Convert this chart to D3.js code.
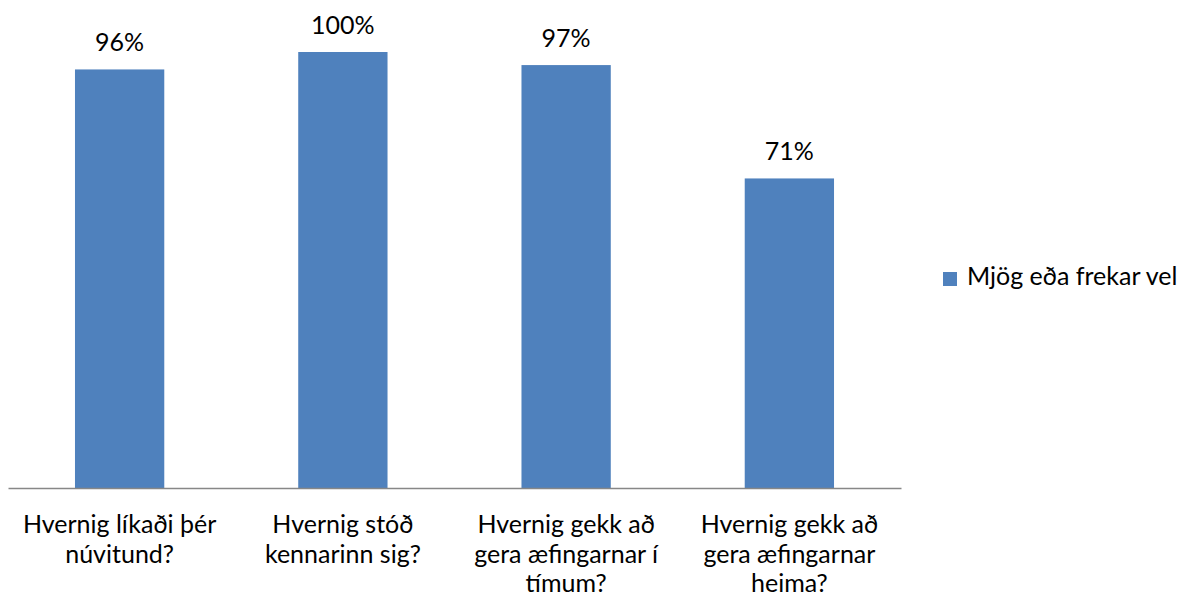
<!DOCTYPE html>
<html>
<head>
<meta charset="utf-8">
<script src="https://cdn.jsdelivr.net/npm/d3@7"></script>
<style>
  html, body { margin: 0; padding: 0; background: #fff; }
  svg { display: block; font-family: Lato, "Open Sans", sans-serif; }
</style>
</head>
<body>
<svg id="chart" width="1182" height="597"></svg>
<script>
// Survey questions (category axis), one line of text per array entry
const categories = [
  ["Hvernig líkaði þér", "núvitund?"],
  ["Hvernig stóð", "kennarinn sig?"],
  ["Hvernig gekk að", "gera æfingarnar í", "tímum?"],
  ["Hvernig gekk að", "gera æfingarnar", "heima?"]
];
// Share answering "very or fairly well", in percent
const values = [96, 100, 97, 71];
const seriesName = "Mjög eða frekar vel";

const svg = d3.select("#chart");
const barColor = "#4F81BD";
const fontSize = 25;

const x = d3.scaleBand()
  .domain(d3.range(categories.length))
  .range([8, 901])
  .paddingInner(0.6)
  .paddingOuter(0.3);

const y = d3.scaleLinear()
  .domain([0, 100])
  .range([488, 52]);

// Bars
svg.append("g")
  .selectAll("rect")
  .data(values)
  .join("rect")
  .attr("x", (d, i) => x(i))
  .attr("y", d => y(d))
  .attr("width", x.bandwidth())
  .attr("height", d => y(0) - y(d))
  .attr("fill", barColor);

// Value labels above bars
svg.append("g")
  .selectAll("text")
  .data(values)
  .join("text")
  .attr("x", (d, i) => x(i) + x.bandwidth() / 2)
  .attr("y", d => y(d) - 18)
  .attr("text-anchor", "middle")
  .attr("font-size", fontSize)
  .attr("fill", "#000")
  .text(d => d + "%");

// Category axis: baseline only, no ticks
const xAxis = d3.axisBottom(x).tickSize(0).tickFormat("");
const axisG = svg.append("g")
  .attr("transform", `translate(0,${y(0)})`)
  .call(xAxis);
axisG.select(".domain").attr("stroke", "#878787").attr("stroke-width", 1.5);

// Multi-line category labels
const labels = svg.append("g")
  .selectAll("text")
  .data(categories)
  .join("text")
  .attr("x", (d, i) => x(i) + x.bandwidth() / 2)
  .attr("y", y(0) + 45)
  .attr("text-anchor", "middle")
  .attr("font-size", fontSize)
  .attr("fill", "#000");
labels.selectAll("tspan")
  .data(d => d)
  .join("tspan")
  .attr("x", function () { return d3.select(this.parentNode).attr("x"); })
  .attr("dy", (d, i) => i === 0 ? 0 : 29.5)
  .text(d => d);

// Legend
const legend = svg.append("g").attr("transform", "translate(943,272)");
legend.append("rect")
  .attr("width", 14)
  .attr("height", 14)
  .attr("fill", barColor);
legend.append("text")
  .attr("x", 24)
  .attr("y", 13)
  .attr("font-size", fontSize)
  .attr("fill", "#000")
  .text(seriesName);
</script>
</body>
</html>
